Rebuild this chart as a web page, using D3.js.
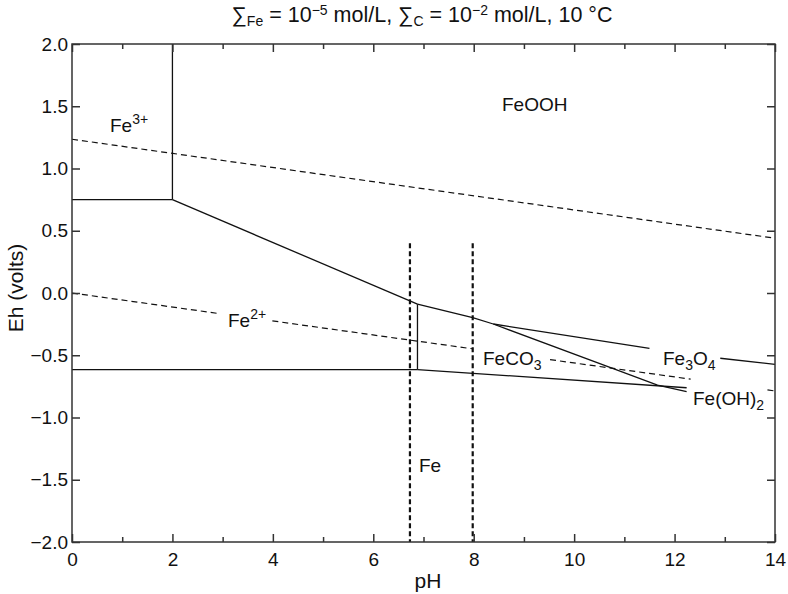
<!DOCTYPE html>
<html lang="en">
	<head>
		<meta charset="utf-8">
		<title>Eh-pH diagram</title>
		<script type="text/javascript" src="https://cdn.jsdelivr.net/npm/d3@7"></script>
		<style type="text/css">
			body{ margin: 0; background: white; }
			text{ font-family: "Liberation Sans", Arial, sans-serif; fill: #111; }
			.tick text{ font-size: 19px; }
			.lbl{ font-size: 19px; }
			.axlbl{ font-size: 21px; }
			.title{ font-size: 21.5px; }
		</style>
	</head>
	<body>
		<div class="chart"></div>
		<script type="text/javascript">

			// tick values
			var xMajor = [0, 2, 4, 6, 8, 10, 12, 14];
			var xMinor = [1, 3, 5, 7, 9, 11, 13];
			var yMajor = [-2.0, -1.5, -1.0, -0.5, 0.0, 0.5, 1.0, 1.5, 2.0];

			// stability field boundaries, [pH, Eh]
			var fe3Fe2 = [[0, 0.75], [2, 0.75]];
			var fe3FeOOH = [[2, 0.75], [2, 2.0]];
			var feOOHFe2 = [[2, 0.75], [6.88, -0.09]];
			var feOOHFeCO3 = [[6.88, -0.09], [7.98, -0.198], [8.39, -0.249]];
			var feOOHFe3O4a = [[8.39, -0.249], [11.5, -0.444]];
			var feOOHFe3O4b = [[12.91, -0.524], [14, -0.573]];
			var fe2FeCO3 = [[6.88, -0.09], [6.88, -0.615]];
			var fe2Fe = [[0, -0.615], [6.88, -0.615]];
			var feCO3Fe = [[6.88, -0.615], [12.24, -0.761]];
			var feCO3Fe3O4 = [[8.39, -0.249], [10.86, -0.62], [11.66, -0.74], [12.24, -0.793]];

			// water stability lines (dashed)
			var waterUpper = [[0, 1.235], [14, 0.44]];
			var waterLower = [
				[[0, 0.0], [2.89, -0.163]],
				[[3.99, -0.224], [7.97, -0.448]],
				[[9.52, -0.535], [12.32, -0.692]],
				[[13.85, -0.778], [14, -0.787]]
			];

			// carbonate limits (vertical dashed)
			var carbLimits = [6.73, 7.98];
			var carbTop = 0.4;

			var w = 788;
			var h = 594;
			var margin = {top: 44, right: 13, bottom: 52, left: 72};

			var svg = d3.select("div.chart")
						.append("svg")
						.attr("width", w)
						.attr("height", h);

			var xScale = d3.scaleLinear()
							.domain([0, 14])
							.range([margin.left, w - margin.right]);

			var yScale = d3.scaleLinear()
							.domain([-2, 2])
							.range([h - margin.bottom, margin.top]);

			var line = d3.line()
						.x((d) => xScale(d[0]))
						.y((d) => yScale(d[1]));

			// solid boundaries
			var solids = [fe3Fe2, fe3FeOOH, feOOHFe2, feOOHFeCO3, feOOHFe3O4a, feOOHFe3O4b,
						fe2FeCO3, fe2Fe, feCO3Fe, feCO3Fe3O4];

			svg.selectAll("path.solid")
				.data(solids)
				.enter()
				.append("path")
				.attr("class", "solid")
				.attr("d", line)
				.attr("fill", "none")
				.attr("stroke", "#111")
				.attr("stroke-width", 1.3);

			svg.selectAll("path.water")
				.data([waterUpper].concat(waterLower))
				.enter()
				.append("path")
				.attr("class", "water")
				.attr("d", line)
				.attr("fill", "none")
				.attr("stroke", "#111")
				.attr("stroke-width", 1.2)
				.attr("stroke-dasharray", "6,4");

			svg.selectAll("line.carb")
				.data(carbLimits)
				.enter()
				.append("line")
				.attr("class", "carb")
				.attr("x1", (d) => xScale(d))
				.attr("x2", (d) => xScale(d))
				.attr("y1", yScale(carbTop))
				.attr("y2", yScale(-2))
				.attr("stroke", "#111")
				.attr("stroke-width", 2.2)
				.attr("stroke-dasharray", "5,3");

			// axes: ticks point inward on all four sides
			var axisColor = "#333";

			function styleAxis(g){
				g.select(".domain").remove();
				g.selectAll(".tick line").attr("stroke", axisColor).attr("stroke-width", 1.5);
			}

			var xAxis = d3.axisBottom(xScale)
							.tickValues(xMajor)
							.tickSize(-8)
							.tickPadding(11)
							.tickFormat(d3.format("d"));

			svg.append("g")
				.attr("transform", "translate(0," + yScale(-2) + ")")
				.call(xAxis)
				.call(styleAxis);

			svg.append("g")
				.attr("transform", "translate(0," + yScale(-2) + ")")
				.call(d3.axisBottom(xScale).tickValues(xMinor).tickSize(-5).tickFormat(""))
				.call(styleAxis);

			svg.append("g")
				.attr("transform", "translate(0," + yScale(2) + ")")
				.call(d3.axisTop(xScale).tickValues(xMajor).tickSize(-8).tickFormat(""))
				.call(styleAxis);

			svg.append("g")
				.attr("transform", "translate(0," + yScale(2) + ")")
				.call(d3.axisTop(xScale).tickValues(xMinor).tickSize(-5).tickFormat(""))
				.call(styleAxis);

			var yAxis = d3.axisLeft(yScale)
							.tickValues(yMajor)
							.tickSize(-8)
							.tickPadding(4)
							.tickFormat((d) => d3.format(".1f")(d).replace("-", "\u2212"));

			svg.append("g")
				.attr("transform", "translate(" + xScale(0) + ",0)")
				.call(yAxis)
				.call(styleAxis);

			svg.append("g")
				.attr("transform", "translate(" + xScale(14) + ",0)")
				.call(d3.axisRight(yScale).tickValues(yMajor).tickSize(-8).tickFormat(""))
				.call(styleAxis);

			svg.selectAll(".tick text").attr("fill", "#111");

			// frame
			svg.append("rect")
				.attr("x", xScale(0))
				.attr("y", yScale(2))
				.attr("width", xScale(14) - xScale(0))
				.attr("height", yScale(-2) - yScale(2))
				.attr("fill", "none")
				.attr("stroke", axisColor)
				.attr("stroke-width", 1.5);

			// axis titles
			svg.append("text")
				.attr("class", "axlbl")
				.attr("x", 428)
				.attr("y", 588)
				.attr("text-anchor", "middle")
				.text("pH");

			svg.append("text")
				.attr("class", "axlbl")
				.attr("transform", "translate(23,288) rotate(-90)")
				.attr("text-anchor", "middle")
				.text("Eh (volts)");

			// title with sub/superscripts
			var title = svg.append("text")
							.attr("class", "title")
							.attr("x", 422)
							.attr("y", 22)
							.attr("text-anchor", "middle");
			title.append("tspan").text("\u2211");
			title.append("tspan").attr("dy", 4).attr("font-size", "14px").text("Fe");
			title.append("tspan").attr("dy", -4).text(" = 10");
			title.append("tspan").attr("dy", -7).attr("font-size", "14px").text("\u22125");
			title.append("tspan").attr("dy", 7).text(" mol/L, \u2211");
			title.append("tspan").attr("dy", 4).attr("font-size", "14px").text("C");
			title.append("tspan").attr("dy", -4).text(" = 10");
			title.append("tspan").attr("dy", -7).attr("font-size", "14px").text("\u22122");
			title.append("tspan").attr("dy", 7).text(" mol/L, 10 \u00B0C");

			// field labels: [base, script, shift, x, y]
			var fieldLabels = [
				["FeOOH", "", 0, 502, 111],
				["Fe", "3+", -8, 110, 132],
				["Fe", "2+", -8, 228, 327],
				["FeCO", "3", 5, 483, 365],
				["Fe", "", 0, 419, 472]
			];

			fieldLabels.forEach(function(l){
				var t = svg.append("text")
							.attr("class", "lbl")
							.attr("x", l[3])
							.attr("y", l[4]);
				t.append("tspan").text(l[0]);
				if (l[1] !== ""){
					t.append("tspan")
						.attr("dy", l[2])
						.attr("font-size", "14px")
						.text(l[1]);
				}
			});

			var fe3o4 = svg.append("text").attr("class", "lbl").attr("x", 663).attr("y", 365);
			fe3o4.append("tspan").text("Fe");
			fe3o4.append("tspan").attr("dy", 5).attr("font-size", "14px").text("3");
			fe3o4.append("tspan").attr("dy", -5).text("O");
			fe3o4.append("tspan").attr("dy", 5).attr("font-size", "14px").text("4");

			var feoh2 = svg.append("text").attr("class", "lbl").attr("x", 693).attr("y", 405);
			feoh2.append("tspan").text("Fe(OH)");
			feoh2.append("tspan").attr("dy", 5).attr("font-size", "14px").text("2");

		</script>
	</body>
</html>
